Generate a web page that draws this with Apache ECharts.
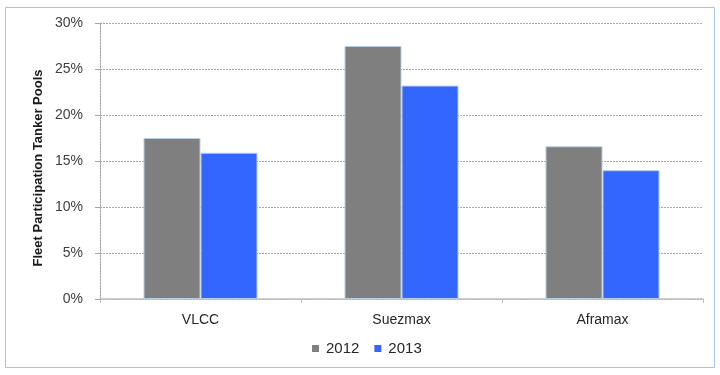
<!DOCTYPE html>
<html>
<head>
<meta charset="utf-8">
<script src="https://cdn.jsdelivr.net/npm/echarts@6/dist/echarts.min.js"></script>
<style>
  html, body { margin: 0; padding: 0; background: #ffffff; }
  #chart { width: 720px; height: 375px; }
</style>
</head>
<body>
<div id="chart"></div>
<script>
// Tanker classes on the category axis
const categories = ['VLCC', 'Suezmax', 'Aframax'];
// Share of the fleet in tanker pools, per year (fractions)
const values2012 = [0.175, 0.275, 0.166];
const values2013 = [0.159, 0.232, 0.140];
const seriesNames = ['2012', '2013'];
// Value axis range and step
const yMin = 0;
const yMax = 0.30;
const yStep = 0.05;
const yTitle = 'Fleet Participation Tanker Pools';

const chart = echarts.init(document.getElementById('chart'), null, { renderer: 'canvas' });

const barBorder = { borderColor: '#b8cde6', borderWidth: 1 };

chart.setOption({
  backgroundColor: '#ffffff',
  animation: false,
  textStyle: { fontFamily: 'Liberation Sans, Arial, sans-serif' },
  graphic: [
    {
      type: 'rect',
      shape: { x: 5.5, y: 7.5, width: 709, height: 360 },
      style: { fill: 'none', stroke: '#a9c3e3', lineWidth: 1 },
      silent: true
    },
    {
      // value axis title, rotated to read bottom-to-top
      type: 'text',
      x: 38,
      y: 168,
      rotation: Math.PI / 2,
      style: {
        text: yTitle,
        fill: '#1a1a1a',
        fontFamily: 'Liberation Sans, Arial, sans-serif',
        fontWeight: 'bold',
        fontSize: 13,
        align: 'center',
        verticalAlign: 'middle'
      },
      silent: true
    }
  ],
  grid: { left: 100, right: 17, top: 23, bottom: 76 },
  legend: {
    data: seriesNames,
    bottom: 14,
    left: 307,
    orient: 'horizontal',
    itemWidth: 7,
    itemHeight: 7,
    itemGap: 15,
    icon: 'rect',
    itemStyle: { borderWidth: 0 },
    textStyle: { color: '#262626', fontSize: 15, fontFamily: 'Liberation Sans, Arial, sans-serif', padding: [0, 0, 0, 2] }
  },
  xAxis: {
    type: 'category',
    data: categories,
    axisLine: { show: true, lineStyle: { color: '#bfbfbf', width: 1.5 } },
    axisTick: { show: true, length: 4, lineStyle: { color: '#bfbfbf' } },
    axisLabel: { color: '#262626', fontSize: 14, margin: 14 },
    splitLine: { show: false }
  },
  yAxis: {
    type: 'value',
    min: yMin,
    max: yMax,
    interval: yStep,
    axisLine: { show: true, lineStyle: { color: '#a6a6a6', type: [2, 1], width: 1 } },
    axisTick: { show: true, length: 5, lineStyle: { color: '#a6a6a6' } },
    axisLabel: {
      color: '#404040',
      fontSize: 14,
      margin: 17,
      formatter: v => Math.round(v * 100) + '%'
    },
    splitLine: { show: true, lineStyle: { color: '#a6a6a6', type: [2, 1], width: 1 } }
  },
  series: [
    {
      name: seriesNames[0],
      type: 'bar',
      data: values2012,
      barWidth: 57,
      barGap: '0%',
      itemStyle: Object.assign({ color: '#7f7f7f' }, barBorder)
    },
    {
      name: seriesNames[1],
      type: 'bar',
      data: values2013,
      barWidth: 57,
      barGap: '0%',
      itemStyle: Object.assign({ color: '#3366ff' }, barBorder)
    }
  ]
});
</script>
</body>
</html>
